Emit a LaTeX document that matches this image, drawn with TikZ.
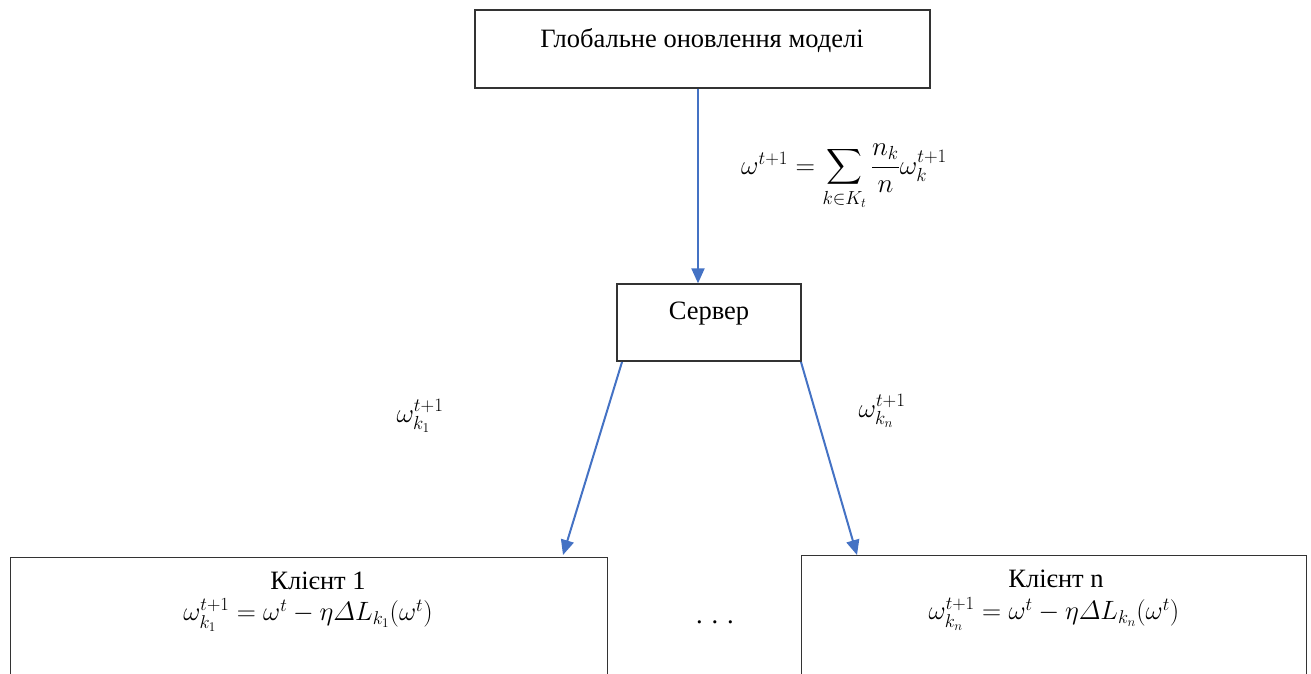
\documentclass[tikz,border=0pt]{standalone}
\usepackage{fix-cm}
\usepackage{exscale}
\usepackage{fontspec}
\setmainfont{Liberation Serif}
\usetikzlibrary{arrows.meta}
\definecolor{arrblue}{RGB}{68,114,196}
\tikzset{
  box/.style={draw=black!80, line width=1.3pt, fill=white, inner sep=0pt},
  lbl/.style={inner sep=0pt, font=\fontsize{26.5}{30}\selectfont},
  mlbl/.style={inner sep=0pt, font=\fontsize{26.5}{31}\selectfont},
  elbl/.style={inner sep=0pt, font=\fontsize{27}{31}\selectfont},
  conn/.style={draw=arrblue, line width=2pt, -{Triangle[length=15pt,width=13pt]}}
}
\begin{document}
\begin{tikzpicture}[x=1pt,y=-1pt]
\useasboundingbox (0,0) rectangle (1311,673);
\clip (0,0) rectangle (1311,673);
% boxes
\node[box, minimum width=455pt, minimum height=78pt] (top) at (702.5,49) {};
\node[box, minimum width=184pt, minimum height=77pt] (srv) at (709,322.5) {};
\node[box, minimum width=597pt, minimum height=140pt, anchor=north west] (c1) at (9.5,557) {};
\node[box, minimum width=505pt, minimum height=140pt, anchor=north west] (cn) at (801,555) {};
% texts
\node[lbl] (toptxt) at (702,41) {Глобальне оновлення моделі};
\node[lbl] (srvtxt) at (709,314) {Сервер};
\node[lbl] (c1txt) at (318,581) {Клієнт 1};
\node[mlbl] (c1f) at (308,615) {$\omega_{k_1}^{t+1}=\omega^{t}-\eta\mathnormal{\Delta} L_{k_1}(\omega^{t})$};
\node[lbl] (cntxt) at (1056,579) {Клієнт n};
\node[mlbl] (cnf) at (1054,614) {$\omega_{k_n}^{t+1}=\omega^{t}-\eta\mathnormal{\Delta} L_{k_n}(\omega^{t})$};
\node[lbl] (dots) at (715,622) {.\,\,.\,\,.};
% connectors
\coordinate (s1) at (622,362);
\coordinate (sn) at (801,362);
\coordinate (t1) at (563,555);
\coordinate (tn) at (857,555);
\draw[conn] ([xshift=-4.5pt]top.south) -- ([xshift=-11pt]srv.north);
\draw[conn] (s1) -- (t1);
\draw[conn] (sn) -- (tn);
% edge labels
\node[elbl] (sumf) at (844,177) {$\omega^{t+1}=\displaystyle\sum_{k\in K_t}\frac{n_k}{n}\omega_k^{t+1}$};
\node[elbl] (w1) at (420,416) {$\omega_{k_1}^{t+1}$};
\node[elbl] (wn) at (882,411) {$\omega_{k_n}^{t+1}$};
\end{tikzpicture}
\end{document}
